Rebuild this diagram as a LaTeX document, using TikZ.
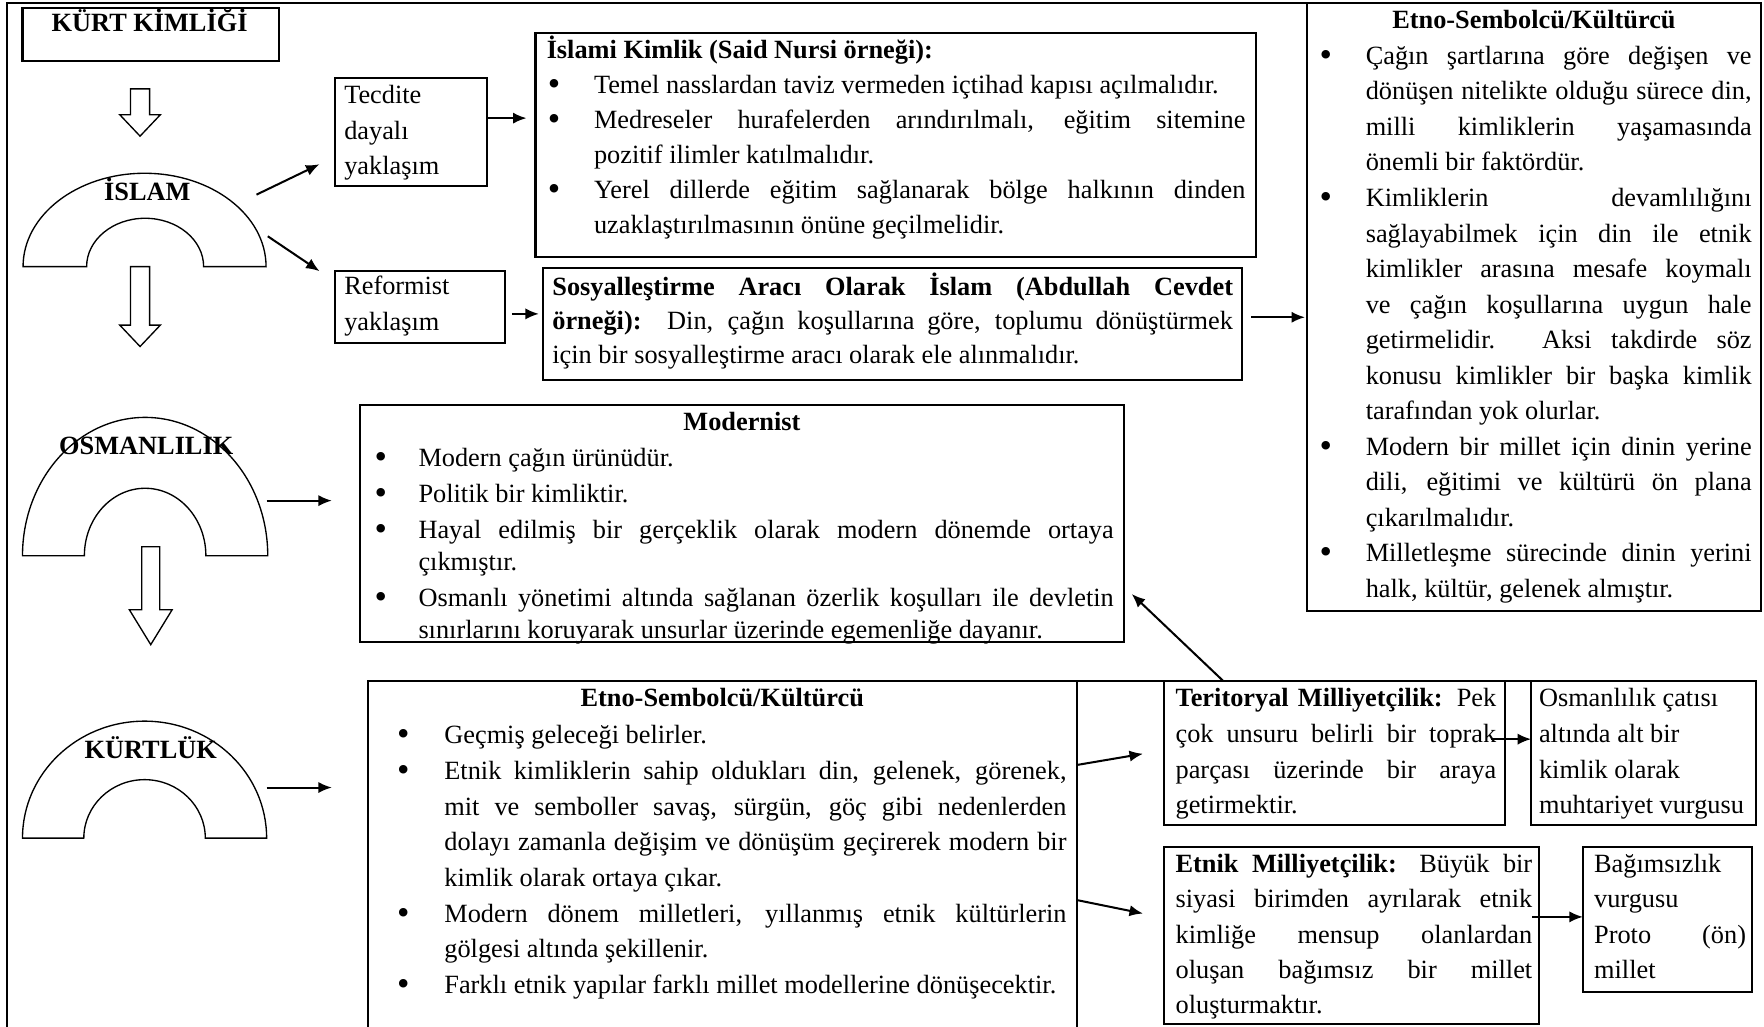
\documentclass[tikz,border=0pt]{standalone}
\usepackage{fontspec}
\setmainfont{Liberation Serif}
\usetikzlibrary{arrows.meta,fit}
\newcommand\fs[1]{\fontsize{11.7pt}{#1}\selectfont\tolerance=10000\hbadness=10000\hyphenpenalty=10000\parindent=0pt\parskip=0pt}
\newcommand\bdot{\raisebox{-0.9pt}{\scalebox{1.35}{\textbullet}}}
\newcommand\bul[1][20.5pt]{\noindent\hangindent=#1\hangafter=1\makebox[#1][l]{\bdot}\ignorespaces}
\tikzset{
  box/.style={draw, line width=0.9pt, inner sep=0pt, outer sep=0pt},
  tx/.style={anchor=north west, inner sep=0pt, outer sep=0pt, align=justify},
  ttl/.style={anchor=base, inner sep=0pt, outer sep=0pt, font=\fs{15.7pt}\bfseries},
  arr/.style={line width=0.9pt, -{Latex[length=6pt,width=5pt]}},
  hol/.style={draw, line width=0.6pt, fill=white},
}
\begin{document}
\begin{tikzpicture}[x=0.5pt,y=-0.5pt]
\useasboundingbox (0,0) rectangle (1568,912);
% outer frame
\draw[line width=0.9pt] (6,930) -- (6,3) -- (1565,3);

% KURT KIMLIGI
\node[box, fit={(20,7) (248,54)}] (kk) {};
\node[ttl] (kkt) at (133,28) {KÜRT KİMLİĞİ};
\draw[hol] (116,79) -- (133,79) -- (133,102) -- (142.5,102) -- (124.5,121) -- (106.5,102) -- (116,102) -- cycle;

% ISLAM arch
\draw[hol] (20.5,237) arc[start angle=180, end angle=360, x radius=108, y radius=83] -- (181,237)
  arc[start angle=0, end angle=-180, x radius=52, y radius=43] -- cycle;
\node[ttl] (islam) at (131,178) {İSLAM};
\draw[hol] (116,237) -- (133,237) -- (133,289) -- (142.5,289) -- (124.5,308) -- (106.5,289) -- (116,289) -- cycle;

% OSMANLILIK arch
\draw[hol] (20,494) arc[start angle=180, end angle=360, x radius=109, y radius=123] -- (183,494)
  arc[start angle=0, end angle=-180, x radius=54, y radius=60] -- cycle;
\node[ttl] (osm) at (130,404) {OSMANLILIK};
\draw[hol] (126,486) -- (142,486) -- (142,542) -- (153,542) -- (134,573) -- (115,542) -- (126,542) -- cycle;

% KURTLUK arch
\draw[hol] (20,745) arc[start angle=180, end angle=360, x radius=108.5, y radius=104] -- (182.5,745)
  arc[start angle=0, end angle=-180, x radius=54, y radius=52] -- cycle;
\node[ttl] (kurt) at (134,674) {KÜRTLÜK};

% Tecdite
\node[box, fit={(298,69) (433,165)}] (tec) {};
\node[tx, text width=62pt, font=\fs{15.75pt}] (tect) at (306,70) {\strut Tecdite\par dayalı\par yaklaşım\par};

% Reformist
\node[box, fit={(298,241) (449,305)}] (ref) {};
\node[tx, text width=68pt, font=\fs{15.75pt}] (reft) at (306,240) {\strut Reformist\par yaklaşım\par};

% Islami Kimlik
\node[box, fit={(476,29) (1116,228)}] (isl) {};
\node[ttl, anchor=base west] (islt) at (486,52) {İslami Kimlik (Said Nursi örneği):};
\node[tx, text width=310pt, font=\fs{15.6pt}] (islb) at (487,61) {%
\bul\strut Temel nasslardan taviz vermeden içtihad kapısı açılmalıdır.\par
\bul Medreseler hurafelerden arındırılmalı, eğitim sitemine\linebreak pozitif ilimler katılmalıdır.\par
\bul Yerel dillerde eğitim sağlanarak bölge halkının dinden\linebreak uzaklaştırılmasının önüne geçilmelidir.\par};

% Sosyallestirme
\node[box, fit={(483,238) (1104,338)}] (sos) {};
\node[tx, text width=302.5pt, font=\fs{15.25pt}] (sost) at (491,241) {\strut\textbf{Sosyalleştirme Aracı Olarak İslam (Abdullah Cevdet}\linebreak \textbf{örneği):}\ \ Din, çağın koşullarına göre, toplumu dönüştürmek\linebreak için bir sosyalleştirme aracı olarak ele alınmalıdır.\par};

% Right Etno-Sembolcu
\node[box, fit={(1162,3) (1565,543)}] (etR) {};
\node[ttl] (etRt) at (1363.5,25) {Etno-Sembolcü/Kültürcü};
\node[tx, text width=192pt, font=\fs{15.8pt}] (etRb) at (1173,35) {%
\bul\strut Çağın şartlarına göre değişen ve\linebreak dönüşen nitelikte olduğu sürece din,\linebreak milli kimliklerin yaşamasında\linebreak önemli bir faktördür.\par
\bul Kimliklerin devamlılığını\linebreak sağlayabilmek için din ile etnik\linebreak kimlikler arasına mesafe koymalı\linebreak ve çağın koşullarına uygun hale\linebreak getirmelidir. Aksi takdirde söz\linebreak konusu kimlikler bir başka kimlik\linebreak tarafından yok olurlar.\par
\bul Modern bir millet için dinin yerine\linebreak dili, eğitimi ve kültürü ön plana\linebreak çıkarılmalıdır.\par
\bul Milletleşme sürecinde dinin yerini\linebreak halk, kültür, gelenek almıştır.\par};

% Modernist
\node[box, fit={(320,360) (999,571)}] (mod) {};
\node[ttl] (modt) at (659.5,383) {Modernist};
\node[tx, text width=328.5pt, font={\fs{14.2pt}\parskip=1.8pt}] (modb) at (333,395) {%
\bul[19.5pt]\strut Modern çağın ürünüdür.\par
\bul[19.5pt] Politik bir kimliktir.\par
\bul[19.5pt] Hayal edilmiş bir gerçeklik olarak modern dönemde ortaya\linebreak çıkmıştır.\par
\bul[19.5pt] Osmanlı yönetimi altında sağlanan özerlik koşulları ile devletin\linebreak sınırlarını koruyarak unsurlar üzerinde egemenliğe dayanır.\par};

% Bottom Etno-Sembolcu
\node[box, fit={(327,605) (957,950)}] (etB) {};
\node[ttl] (etBt) at (642,628) {Etno-Sembolcü/Kültürcü};
\node[tx, text width=297.5pt, font=\fs{15.85pt}] (etBb) at (353,639) {%
\bul[21pt]\strut Geçmiş geleceği belirler.\par
\bul[21pt] Etnik kimliklerin sahip oldukları din, gelenek, görenek,\linebreak mit ve semboller savaş, sürgün, göç gibi nedenlerden\linebreak dolayı zamanla değişim ve dönüşüm geçirerek modern bir\linebreak kimlik olarak ortaya çıkar.\par
\bul[21pt] Modern dönem milletleri, yıllanmış etnik kültürlerin\linebreak gölgesi altında şekillenir.\par
\bul[21pt] Farklı etnik yapılar farklı millet modellerine dönüşecektir.\par};

% Teritoryal
\node[box, fit={(1035,605) (1338,733)}] (ter) {};
\node[tx, text width=142.5pt, font=\fs{15.85pt}] (tert) at (1045,606) {\strut\textbf{Teritoryal Milliyetçilik:} Pek\linebreak çok unsuru belirli bir toprak\linebreak parçası üzerinde bir araya\linebreak getirmektir.\par};

% Osmanlilik catisi
\node[box, fit={(1361,605) (1561,733)}] (osB) {};
\node[tx, text width=95pt, font=\fs{15.85pt}] (osBt) at (1368,606) {\strut Osmanlılık çatısı\par altında alt bir\par kimlik olarak\par muhtariyet vurgusu\par};

% Etnik
\node[box, fit={(1035,753) (1368,910)}] (etn) {};
\node[tx, text width=158.5pt, font=\fs{15.6pt}] (etnt) at (1045,754) {\strut\textbf{Etnik Milliyetçilik:} Büyük bir\linebreak siyasi birimden ayrılarak etnik\linebreak kimliğe mensup olanlardan\linebreak oluşan bağımsız bir millet\linebreak oluşturmaktır.\par};

% Bagimsizlik
\node[box, fit={(1407,753) (1557,882)}] (bag) {};
\node[tx, text width=67.5pt, font=\fs{15.6pt}] (bagt) at (1417,754) {\strut Bağımsızlık\par vurgusu\par Proto (ön)\linebreak millet\par};

% long top line of the bottom row
\draw[line width=0.9pt] (etB.north east) -- (osB.north west);

% connectors
\coordinate (i1) at (228,173); \coordinate (i2) at (284,146);
\coordinate (i3) at (238,210); \coordinate (i4) at (284,241);
\draw[arr] (i1) -- (i2);
\draw[arr] (i3) -- (i4);
\coordinate (y105) at (0,105);
\draw[arr, shorten >=4pt] (tec.east |- y105) -- (isl.west |- y105);
\coordinate (y279) at (0,279);
\draw[arr, shorten <=3pt, shorten >=2pt] (ref.east |- y279) -- (sos.west |- y279);
\coordinate (y282) at (0,282);
\draw[arr, shorten <=4pt, shorten >=1pt] (sos.east |- y282) -- (etR.west |- y282);
\coordinate (om) at (237,445);
\draw[arr, shorten >=12.5pt] (om) -- (mod.west |- om);
\coordinate (km) at (237,700);
\draw[arr, shorten >=16pt] (km) -- (etB.west |- km);
\coordinate (e1s) at (0,680); \coordinate (e1e) at (1016,670);
\draw[arr] (etB.east |- e1s) -- (e1e);
\coordinate (e2s) at (0,800); \coordinate (e2e) at (1016,812);
\draw[arr] (etB.east |- e2s) -- (e2e);
\coordinate (t1) at (1087,605); \coordinate (t2) at (1006,528);
\draw[arr] (t1) -- (t2);
\coordinate (t3) at (1325,657);
\draw[arr] (t3) -- (osB.west |- t3);
\coordinate (t4) at (1362,815);
\draw[arr] (t4) -- (bag.west |- t4);
\end{tikzpicture}
\end{document}
